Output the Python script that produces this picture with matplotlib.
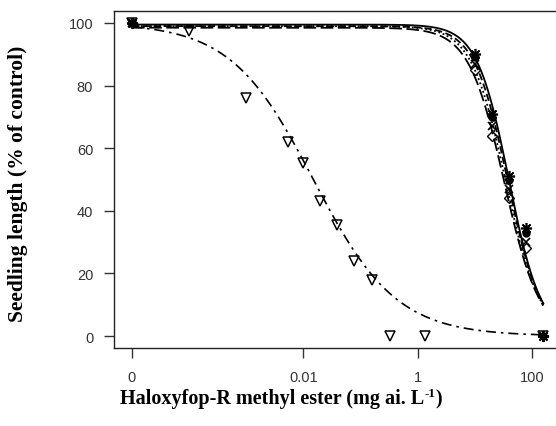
import numpy as np
import matplotlib
matplotlib.use("Agg")
import matplotlib.pyplot as plt

# ---- data ----
# zero dose is drawn at 1e-5 (labelled "0")
zero_pos = 1e-5
res_doses = [0, 10, 20, 40, 80]
res_a = [100, 90, 71, 51, 34.5]
res_b = [100, 89, 70, 50, 33]
res_c = [100, 87, 67, 47, 30]
res_d = [100, 85, 64, 44, 28]

sens_doses = [0, 1e-4, 0.001, 0.0054, 0.01, 0.02, 0.039, 0.078, 0.16, 0.33, 1.35, 160]
sens_resp = [100, 97.4, 76, 62, 55.3, 43.1, 35.5, 24, 17.9, 0, 0, 0]

# fitted log-logistic parameters (slope b, upper d, ED50 e)
fit_b = [1.55, 1.5, 1.45, 1.4, 0.6]
fit_d = [99.5, 99, 99, 98.5, 100]
fit_e = [40, 38, 35, 33, 0.015]

xticks = [1e-5, 0.01, 1, 100]
xticklabels = ["0", "0.01", "1", "100"]
yticks = [0, 20, 40, 60, 80, 100]

xlabel_main = "Haloxyfop-R methyl ester (mg ai. L"
xlabel_sup = "-1"
xlabel_end = ")"
ylabel = "Seedling length (% of control)"

# ---- figure ----
fig = plt.figure(figsize=(5.56, 4.27), dpi=100)
W, H = 556, 427
left, right, bottom, top = 114, 561, 349, 12
ax = fig.add_axes([left / W, 1 - bottom / H, (right - left) / W, (bottom - top) / H])

def pos(d):
    return np.array([zero_pos if v == 0 else v for v in d], dtype=float)

xs = np.logspace(np.log10(zero_pos), np.log10(160), 400)
styles = ["-", (0, (4, 2)), (0, (1, 1.5)), (0, (7, 2.5)), (0, (6, 3, 1.5, 3))]
series = [(res_doses, res_a), (res_doses, res_b), (res_doses, res_c), (res_doses, res_d),
          (sens_doses, sens_resp)]
markers = [dict(marker=(8, 2, 0), ms=8, mew=1.2, mfc="black"),
           dict(marker="o", ms=5, mfc="black", mew=1),
           dict(marker="x", ms=6, mew=1.2, mfc="none"),
           dict(marker="D", ms=5, mew=1, mfc="none"),
           dict(marker="v", ms=6.5, mew=1.1, mfc="none")]
for i, (dd, rr) in enumerate(series):
    yc = fit_d[i] / (1 + (xs / fit_e[i]) ** fit_b[i])
    ax.plot(xs, yc, color="black", lw=1.3 if i < 4 else 1.2, linestyle=styles[i])
    ax.plot(pos(dd), rr, linestyle="none", color="black", mec="black", **markers[i])

# filled blob at the top dose of the sensitive series
ax.plot(pos(sens_doses[-1:]), sens_resp[-1:], linestyle="none", marker=(8, 2, 0),
        ms=8, mew=1.4, color="black")
ax.plot(pos(sens_doses[-1:]), sens_resp[-1:], linestyle="none", marker="o",
        ms=5, color="black")

ax.set_xscale("log")
lo = np.log10(zero_pos) - (132 - left) / 57.1
hi = np.log10(zero_pos) + (right - 132) / 57.1
ax.set_xlim(10 ** lo, 10 ** hi)
ax.set_ylim(-3.83, 103.83)
ax.set_xticks(xticks)
ax.set_xticklabels(xticklabels)
ax.xaxis.set_minor_locator(matplotlib.ticker.NullLocator())
ax.set_yticks(yticks)

for s in ax.spines.values():
    s.set_linewidth(1.0)
    s.set_color("#222222")
ax.tick_params(axis="both", direction="out", length=7, width=1, color="#333333",
               labelsize=10.5, labelcolor="#333333")
ax.tick_params(axis="x", pad=9)
ax.tick_params(axis="y", pad=8)
for lab in ax.get_xticklabels() + ax.get_yticklabels():
    lab.set_family("Liberation Sans")

# x label with a real superscript, built from three text pieces
fs = 14.5
renderer = fig.canvas.get_renderer()
t1 = fig.text(0, 0, xlabel_main, fontsize=fs, fontweight="bold", family="Liberation Serif")
t2 = fig.text(0, 0, xlabel_sup, fontsize=fs * 0.65, fontweight="bold", family="Liberation Serif")
t3 = fig.text(0, 0, xlabel_end, fontsize=fs, fontweight="bold", family="Liberation Serif")
w1 = t1.get_window_extent(renderer).width
w2 = t2.get_window_extent(renderer).width
w3 = t3.get_window_extent(renderer).width
total = w1 + w2 + w3
x0 = 281 - total / 2
base = H - 404
t1.set_position((x0 / W, base / H))
t2.set_position(((x0 + w1) / W, (base + 7) / H))
t3.set_position(((x0 + w1 + w2) / W, base / H))

fig.text(18 / W, 1 - 184 / H, ylabel, rotation=90,
         ha="center", va="center", fontsize=15.5, fontweight="bold",
         family="Liberation Serif")

fig.savefig("out.png", dpi=100)
